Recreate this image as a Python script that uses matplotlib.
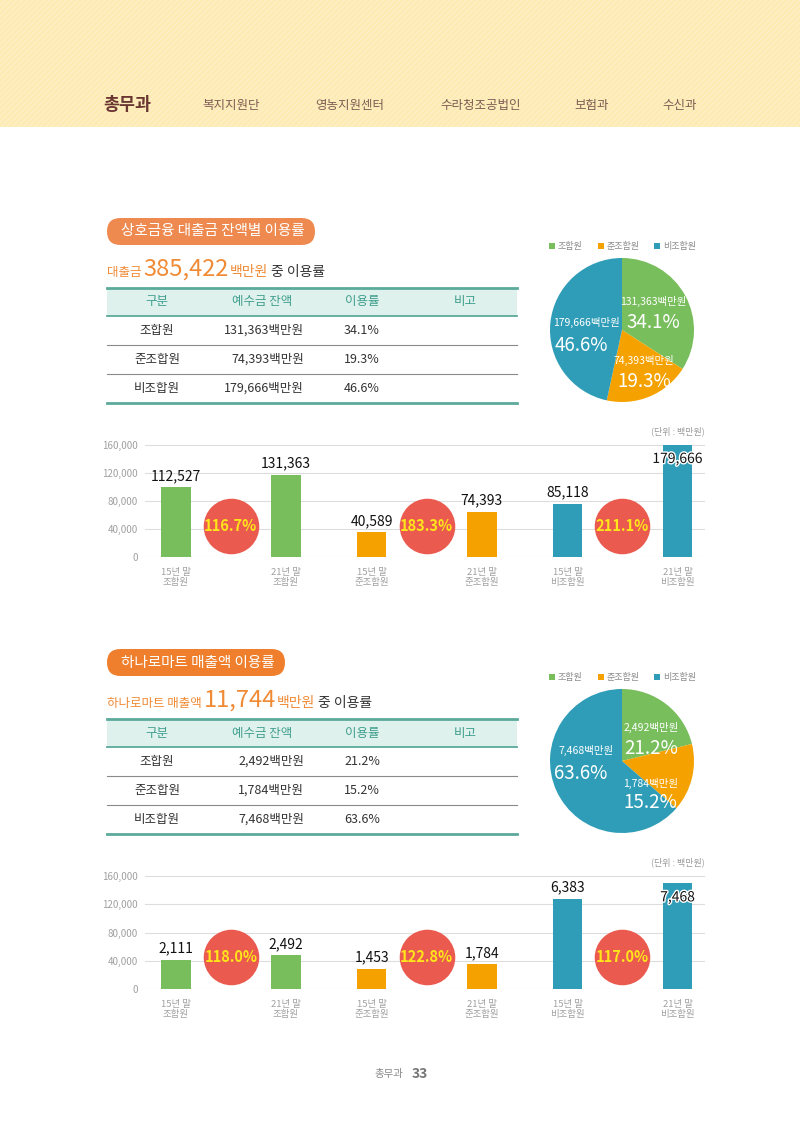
import matplotlib
matplotlib.use('Agg')
from matplotlib import pyplot as plt
from matplotlib.patches import Rectangle, FancyBboxPatch
import matplotlib.patheffects as pe

plt.rcParams['font.family'] = ['Noto Sans CJK KR', 'DejaVu Sans']
plt.rcParams['hatch.linewidth'] = 0.9

W, H = 800, 1132

# ---- data ----
nav_items = ['총무과', '복지지원단', '영농지원센터', '수라청조공법인', '보험과', '수신과']
members = ['조합원', '준조합원', '비조합원']
periods = ['15년 말', '21년 말']
table_head = ['구분', '예수금 잔액', '이용률', '비고']

loan_title = '상호금융 대출금 잔액별 이용률'
loan_prefix = '대출금'
loan_total = '385,422'
loan_balance = ['131,363', '74,393', '179,666']
loan_share = [34.1, 19.3, 46.6]
loan_bar_labels = ['112,527', '131,363', '40,589', '74,393', '85,118', '179,666']
loan_bar_heights = [100000, 117500, 36000, 65000, 76000, 160000]
loan_growth = ['116.7%', '183.3%', '211.1%']

mart_title = '하나로마트 매출액 이용률'
mart_prefix = '하나로마트 매출액'
mart_total = '11,744'
mart_balance = ['2,492', '1,784', '7,468']
mart_share = [21.2, 15.2, 63.6]
mart_bar_labels = ['2,111', '2,492', '1,453', '1,784', '6,383', '7,468']
mart_bar_heights = [41500, 48000, 29000, 35000, 127500, 149500]
mart_growth = ['118.0%', '122.8%', '117.0%']

yticks = [0, 40000, 80000, 120000, 160000]

# ---- colours ----
GREEN = '#79BE5D'
ORANGE = '#F5A200'
BLUE = '#2F9DB7'
RED = '#EA5A4F'
YELLOW = '#FFE51A'
TEAL = '#5BAA9B'
TEAL_TXT = '#3E9E8E'
SUB_ORANGE = '#F08A35'
member_colors = [GREEN, ORANGE, BLUE]

fig = plt.figure(figsize=(W / 100, H / 100), dpi=100)
fig.patch.set_facecolor('white')
bg = fig.add_axes([0, 0, 1, 1])
bg.set_xlim(0, W)
bg.set_ylim(H, 0)
bg.axis('off')
renderer = fig.canvas.get_renderer()


def px_rect(x0, y0, x1, y1):
    return [x0 / W, 1 - y1 / H, (x1 - x0) / W, (y1 - y0) / H]


# header band
bg.add_patch(Rectangle((0, 0), W, 127, facecolor='#FDEBB3', edgecolor='#FDF0C8',
                       hatch='//////', linewidth=0))
nav_x = [127, 231, 350, 481, 592, 680]
for i, (name, x) in enumerate(zip(nav_items, nav_x)):
    if i == 0:
        bg.text(x, 105, name, fontsize=12.5, fontweight='bold', color='#6A3632',
                ha='center', va='center')
    else:
        bg.text(x, 105, name, fontsize=9, color='#7D5C52', ha='center', va='center')


def run_text(x, y, pieces):
    for s, size, color, gap in pieces:
        t = bg.text(x, y, s, fontsize=size, color=color, va='baseline', ha='left')
        x += t.get_window_extent(renderer=renderer).width + gap


def section(dy, title, pill_color, pill_w, prefix, total, balance, share,
            bar_heights, bar_labels, growth, y0, scale):
    # pill title
    bg.add_patch(FancyBboxPatch((107, 218 + dy), pill_w, 27,
                                boxstyle='round,pad=0,rounding_size=13.5',
                                facecolor=pill_color, edgecolor='none'))
    bg.text(121, 231.5 + dy, title, fontsize=10.5, color='white', va='center', ha='left')

    # sub title
    run_text(107, 276 + dy, [(prefix, 9, SUB_ORANGE, 2), (total, 17, SUB_ORANGE, 1),
                             ('백만원', 10, SUB_ORANGE, 3), ('중 이용률', 10, '#333333', 0)])

    # table
    top = 288 + dy
    bg.add_patch(Rectangle((107, top), 410, 28, facecolor='#DFF1EC', edgecolor='none'))
    bg.plot([107, 517], [top, top], color=TEAL, lw=2)
    bg.plot([107, 517], [top + 28, top + 28], color=TEAL, lw=1.3)
    col_x = [157, 262, 362, 465]
    for h, x in zip(table_head, col_x):
        bg.text(x, top + 14, h, fontsize=9, color=TEAL_TXT, ha='center', va='center')
    for i, (m, b, s) in enumerate(zip(members, balance, share)):
        yc = top + 28 + 14.5 + i * 29
        bg.text(157, yc, m, fontsize=9, color='#333333', ha='center', va='center')
        bg.text(304, yc, b + '백만원', fontsize=9, color='#333333', ha='right', va='center')
        bg.text(344, yc, f'{s}%', fontsize=9, color='#333333', ha='left', va='center')
        if i < 2:
            bg.plot([107, 517], [top + 28 + 29 * (i + 1)] * 2, color='#8A8A8A', lw=0.8)
    bg.plot([107, 517], [top + 28 + 87] * 2, color=TEAL, lw=2)

    # pie legend
    leg_x = [552, 601, 657]
    for m, c, x in zip(members, member_colors, leg_x):
        bg.add_patch(Rectangle((x - 3, 243 + dy), 6, 6, facecolor=c, edgecolor='none'))
        bg.text(x + 6, 246.5 + dy, m, fontsize=6.5, color='#8A8A8A', ha='left', va='center')

    # pie
    cx, cy, r = 622, 330 + dy, 72
    pax = fig.add_axes(px_rect(cx - r, cy - r, cx + r, cy + r))
    pax.pie(share, colors=member_colors, startangle=90, counterclock=False,
            radius=1, wedgeprops=dict(linewidth=0))
    pax.set_xlim(-1, 1)
    pax.set_ylim(-1, 1)
    pax.set_aspect('equal')
    pax.axis('off')
    if dy == 0:
        spots = [(0.44, 0.40, 0.43, 0.11), (0.31, -0.42, 0.31, -0.71), (-0.49, 0.10, -0.56, -0.21)]
    else:
        spots = [(0.41, 0.47, 0.40, 0.18), (0.40, -0.31, 0.40, -0.58), (-0.50, 0.15, -0.57, -0.17)]
    for (nx, ny, qx, qy), b, s in zip(spots, balance, share):
        pax.text(nx, ny, b + '백만원', fontsize=7.5, color='white', ha='center', va='center',
                 clip_on=False)
        pax.text(qx, qy, f'{s}%', fontsize=13.5, color='white', ha='center', va='center',
                 clip_on=False)

    # bar chart
    ymax = 164000
    ax = fig.add_axes(px_rect(145, y0 - ymax * scale, 705, y0))
    xs = [g * 1.78 + i for g in range(3) for i in range(2)]
    colors = [member_colors[g] for g in range(3) for i in range(2)]
    ax.bar(xs, bar_heights, width=0.27, color=colors, zorder=2)
    ax.set_xlim(-0.28, 4.81)
    ax.set_ylim(0, ymax)
    ax.set_yticks(yticks, [f'{v:,}' for v in yticks])
    ax.tick_params(axis='y', length=0, labelsize=7, labelcolor='#A0A0A0', pad=5)
    ax.set_xticks(xs, [f'{p}\n{members[g]}' for g in range(3) for p in periods])
    ax.tick_params(axis='x', length=0, labelsize=6.8, labelcolor='#A0A0A0', pad=8)
    for lab in ax.get_xticklabels():
        lab.set_linespacing(1.1)
    ax.grid(axis='y', color='#DDDDDD', lw=0.8, zorder=0)
    for sp in ax.spines.values():
        sp.set_visible(False)
    for x, hgt, lab in zip(xs, bar_heights, bar_labels):
        if hgt > 140000:
            ax.annotate(lab, (x, hgt), xytext=(0, -5), textcoords='offset points',
                        ha='center', va='top', fontsize=10, color='#111111', zorder=4,
                        path_effects=[pe.withStroke(linewidth=2, foreground='white')])
        else:
            ax.annotate(lab, (x, hgt), xytext=(0, 3), textcoords='offset points',
                        ha='center', va='bottom', fontsize=10, color='#111111', zorder=4)
    mids = [g * 1.78 + 0.5 for g in range(3)]
    ax.scatter(mids, [45000] * 3, s=1600, color=RED, zorder=3, linewidths=0)
    for x, gtxt in zip(mids, growth):
        ax.text(x, 45000, gtxt, fontsize=10.5, fontweight='bold', color=YELLOW,
                ha='center', va='center', zorder=4)
    bg.text(705, 431 + (y0 - 557.3), '(단위 : 백만원)', fontsize=6.5, color='#999999',
            ha='right', va='center')


section(0, loan_title, '#EE8A4F', 208, loan_prefix, loan_total, loan_balance, loan_share,
        loan_bar_heights, loan_bar_labels, loan_growth, 557.3, 112.3 / 160000)
section(431, mart_title, '#EF7F2C', 178, mart_prefix, mart_total, mart_balance, mart_share,
        mart_bar_heights, mart_bar_labels, mart_growth, 989, 113 / 160000)

# footer
bg.text(403, 1074, '총무과', fontsize=7.5, color='#888888', ha='right', va='center')
bg.text(412, 1074, '33', fontsize=10, fontweight='bold', color='#777777', ha='left', va='center')

fig.savefig('out.png', dpi=100)
